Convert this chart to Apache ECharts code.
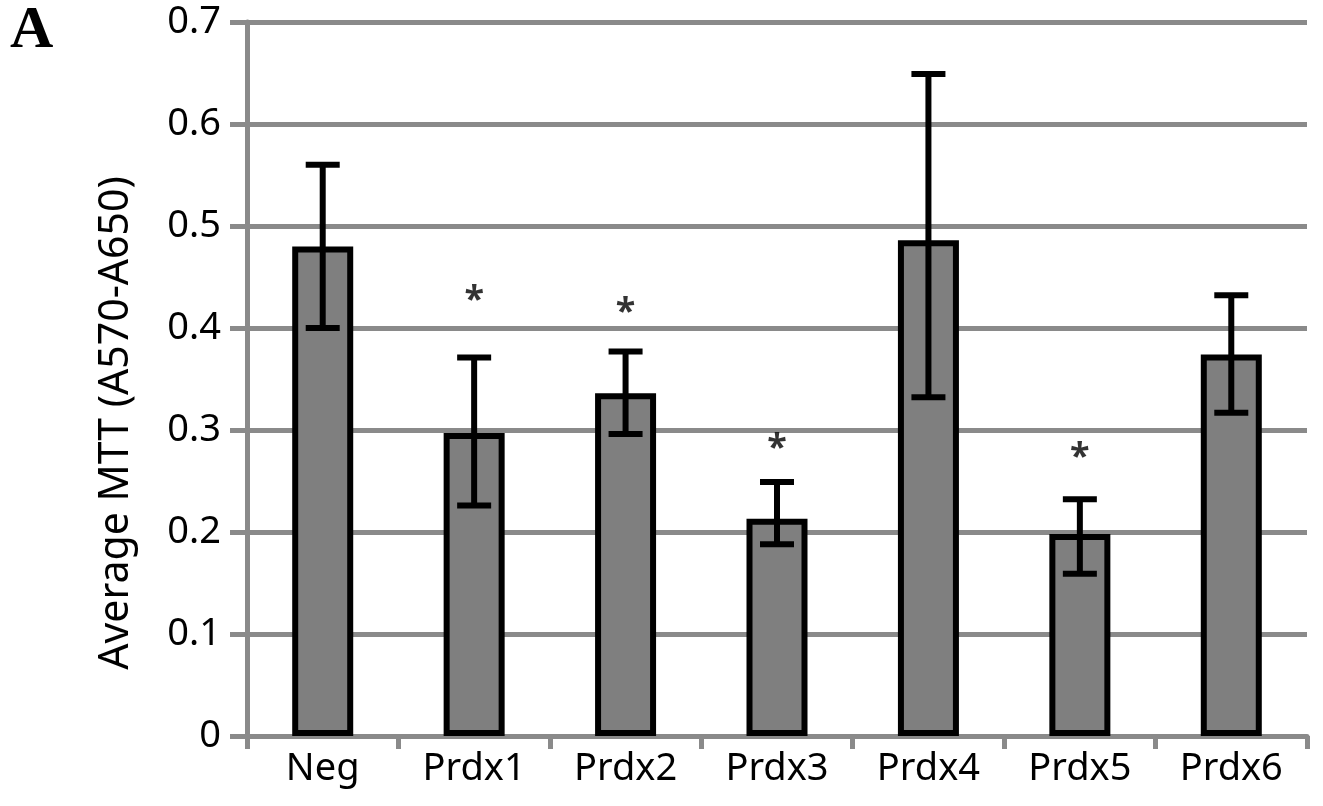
<!DOCTYPE html>
<html>
<head>
<meta charset="utf-8">
<script src="https://cdn.jsdelivr.net/npm/echarts@6/dist/echarts.min.js"></script>
<style>
  html, body { margin: 0; padding: 0; background: #fff; }
  #chart { width: 1323px; height: 806px; }
</style>
</head>
<body>
<div id="chart"></div>
<script>
// ---- data ----
const categories = ['Neg', 'Prdx1', 'Prdx2', 'Prdx3', 'Prdx4', 'Prdx5', 'Prdx6'];
const means      = [0.480, 0.297, 0.336, 0.213, 0.486, 0.198, 0.374];
const errLow     = [0.400, 0.226, 0.296, 0.188, 0.332, 0.159, 0.317];
const errHigh    = [0.560, 0.371, 0.377, 0.249, 0.649, 0.232, 0.432];
const starCats   = ['Prdx1', 'Prdx2', 'Prdx3', 'Prdx5'];
const starY      = [0.434, 0.422, 0.288, 0.280];
const yTicks     = [0, 0.1, 0.2, 0.3, 0.4, 0.5, 0.6, 0.7];
const yAxisName  = 'Average MTT (A570-A650)';
const panelLabel = 'A';

const GRAY = '#8a8a8a';
const FONT = 'Noto Sans';

const errData = categories.map((c, i) => [i, errLow[i], errHigh[i]]);
const starData = starCats.map((c, i) => [c, starY[i]]);

const chart = echarts.init(document.getElementById('chart'), null, { renderer: 'canvas' });

chart.setOption({
  animation: false,
  backgroundColor: '#fff',
  title: {
    text: panelLabel,
    left: 5,
    top: -4,
    textStyle: { fontFamily: 'Liberation Serif', fontWeight: 'bold', fontSize: 60, color: '#000' }
  },
  grid: { left: 247, right: 16, top: 22, bottom: 70, containLabel: false },
  xAxis: {
    type: 'category',
    data: categories,
    boundaryGap: true,
    axisLine: { show: true, lineStyle: { color: GRAY, width: 5 } },
    axisTick: { show: true, length: 13, lineStyle: { color: GRAY, width: 5 } },
    axisLabel: { fontFamily: FONT, fontSize: 38, color: '#000', margin: 14 },
    splitLine: { show: false }
  },
  yAxis: {
    type: 'value',
    min: yTicks[0],
    max: yTicks[yTicks.length - 1],
    interval: 0.1,
    name: yAxisName,
    nameLocation: 'middle',
    nameGap: 110,
    nameTextStyle: { fontFamily: FONT, fontSize: 41, color: '#000', padding: [0, 88, 0, 0] },
    axisLine: { show: true, lineStyle: { color: GRAY, width: 5 } },
    axisTick: { show: true, length: 17, lineStyle: { color: GRAY, width: 5 } },
    axisLabel: {
      fontFamily: FONT, fontSize: 38, color: '#000', margin: 26,
      formatter: v => (Math.round(v * 10) / 10).toString()
    },
    splitLine: { show: true, lineStyle: { color: GRAY, width: 5 } }
  },
  series: [
    {
      type: 'bar',
      data: means,
      barWidth: 61,
      itemStyle: { color: '#7f7f7f', borderColor: '#000', borderWidth: 6 },
      z: 2
    },
    {
      type: 'custom',
      data: errData,
      z: 10,
      renderItem: function (params, api) {
        const x = api.value(0);
        const pLo = api.coord([x, api.value(1)]);
        const pHi = api.coord([x, api.value(2)]);
        const half = 17;
        const st = { stroke: '#000', lineWidth: 6 };
        return {
          type: 'group',
          children: [
            { type: 'line', shape: { x1: pLo[0], y1: pLo[1], x2: pHi[0], y2: pHi[1] }, style: st },
            { type: 'line', shape: { x1: pLo[0] - half, y1: pLo[1], x2: pLo[0] + half, y2: pLo[1] }, style: st },
            { type: 'line', shape: { x1: pHi[0] - half, y1: pHi[1], x2: pHi[0] + half, y2: pHi[1] }, style: st }
          ]
        };
      }
    },
    {
      type: 'scatter',
      data: starData,
      symbolSize: 1,
      itemStyle: { color: 'rgba(0,0,0,0)' },
      z: 11,
      label: {
        show: true,
        position: 'inside',
        formatter: '*',
        fontFamily: FONT,
        fontWeight: 'bold',
        fontSize: 36,
        color: '#000',
        offset: [0, 7]
      }
    }
  ]
});
</script>
</body>
</html>
